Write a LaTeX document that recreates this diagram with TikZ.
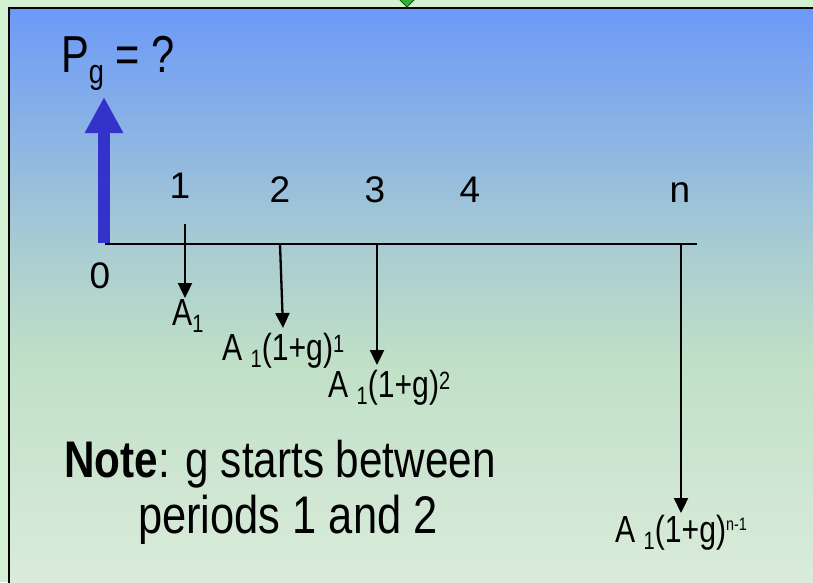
\documentclass[tikz,border=0pt]{standalone}
\usepackage{fontspec}
\usepackage{graphicx}
\setmainfont{Liberation Sans}
\newfontfamily\narrowfont[FakeStretch=0.8]{Liberation Sans}
\newfontfamily\notefont[FakeStretch=0.82]{Liberation Sans}
\usetikzlibrary{arrows.meta}
\definecolor{outerbg}{RGB}{210,240,210}
\definecolor{arrowblue}{RGB}{51,51,204}
\definecolor{gtop}{RGB}{108,153,248}
\definecolor{gmid}{RGB}{168,204,210}
\definecolor{gmidb}{RGB}{192,224,198}
\definecolor{gbot}{RGB}{223,237,223}
\definecolor{diamondgreen}{RGB}{60,170,60}
\pgfdeclareverticalshading{panelshade}{100bp}{color(0bp)=(gbot); color(25bp)=(gbot); color(46bp)=(gmidb); color(55.5bp)=(gmid); color(75bp)=(gtop); color(100bp)=(gtop)}
\newcommand{\fs}[1]{\fontsize{#1}{#1}\selectfont}
\newcommand{\lowsub}[1]{\raisebox{-7pt}{\fs{25}#1}}
\newcommand{\highsup}[1]{\raisebox{8pt}{\fs{25}#1}}
\begin{document}
\begin{tikzpicture}[x=1pt,y=-1pt,
  period/.style={font=\fs{37}, anchor=base, inner sep=0pt},
  flowlabel/.style={font=\narrowfont\fs{37.7}, anchor=base west, inner sep=0pt},
  notetext/.style={font=\notefont\fs{51.5}, anchor=base, inner sep=0pt},
  cash/.style={line width=2.3pt, -{Triangle[width=14pt,length=15pt]}},
  axis/.style={line width=2.3pt},
  bigarrow/.style={arrowblue, line width=12.3pt, -{Triangle[width=36pt,length=36pt]}}]
\useasboundingbox (0,0) rectangle (813,582);
\fill[outerbg] (0,0) rectangle (813,582);
\begin{scope}
\clip (0,0) rectangle (813,582);
\shadedraw[shading=panelshade, draw=black, line width=2.5pt] (9,8) rectangle (840,620);
\filldraw[fill=diamondgreen, draw=black!60!green, line width=0.8pt] (407,7) -- (415,-1) -- (407,-9) -- (399,-1) -- cycle;
\end{scope}
% P_g arrow
\coordinate (origin) at (104,243);
\coordinate (pgtip) at (104,97);
\draw[bigarrow] (origin) -- (pgtip);
\node[anchor=base west, font=\narrowfont\fs{52}, inner sep=0pt] (pg) at (61,72) {P\raisebox{-11pt}{\fs{34}g} = ?};
% time line
\coordinate (tl0) at (105,244);
\coordinate (tlend) at (697,244);
\draw[axis] (tl0) -- (tlend);
\node[period] (p0) at (100,288) {0};
\node[period] (p1) at (180,198) {1};
\node[period] (p2) at (280,202) {2};
\node[period] (p3) at (375,202) {3};
\node[period] (p4) at (470,202) {4};
\node[period] (pn) at (680,202) {n};
% cash flows
\coordinate (c1) at (185,224);
\coordinate (e1) at (185,298);
\coordinate (c2) at (280,244);
\coordinate (e2) at (283,328);
\coordinate (c3) at (377,244);
\coordinate (e3) at (377,365);
\coordinate (cn) at (681,244);
\coordinate (en) at (681,513);
\draw[cash] (c1) -- (e1);
\draw[cash] (c2) -- (e2);
\draw[cash] (c3) -- (e3);
\draw[cash] (cn) -- (en);
\node[flowlabel] (a1) at (172,325) {A\lowsub{1}};
\node[flowlabel] (a2) at (222,360) {A \lowsub{1}(1+g)\highsup{1}};
\node[flowlabel] (a3) at (328,397) {A \lowsub{1}(1+g)\highsup{2}};
\node[flowlabel] (an) at (615,542) {A \lowsub{1}(1+g)\raisebox{12pt}{\fs{18}n-1}};
% note
\node[notetext] (note1) at (280,477) {\textbf{Note}: g starts between};
\node[notetext, font=\notefont\fs{53}] (note2) at (288,533) {periods 1 and 2};
\end{tikzpicture}
\end{document}
